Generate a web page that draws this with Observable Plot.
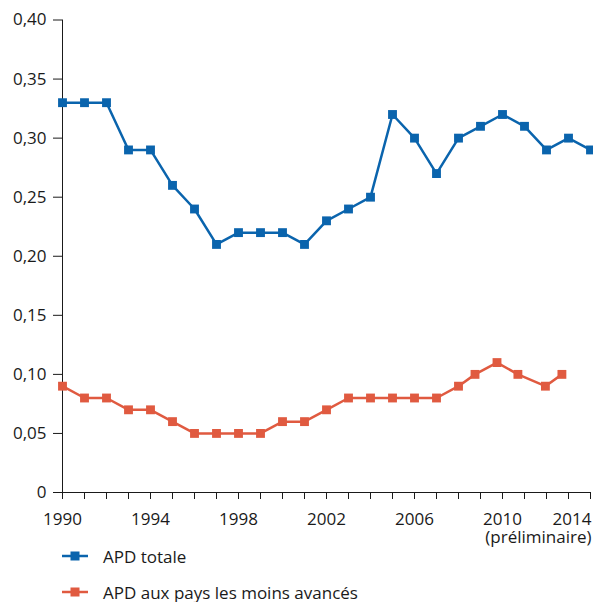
<!DOCTYPE html>
<html><head><meta charset="utf-8">
<script src="https://cdn.jsdelivr.net/npm/d3@7"></script>
<script src="https://cdn.jsdelivr.net/npm/@observablehq/plot@0.6"></script>
<style>
body{margin:0;background:#fff;font-family:"Open Sans",sans-serif;}
#legend{padding-left:62px;font-size:17px;color:#1a1a1a;margin-top:-2px}
.row{display:flex;align-items:center;height:36px}
.row svg{margin-right:15px;display:block}
</style></head><body><div id="chart"></div><div id="legend"></div>
<script>
const years = d3.range(1990, 2015);
const totalValues = [0.33,0.33,0.33,0.29,0.29,0.26,0.24,0.21,0.22,0.22,0.22,0.21,0.23,0.24,0.25,0.32,0.30,0.27,0.30,0.31,0.32,0.31,0.29,0.30,0.29];
const ldcYears = [1990,1991,1992,1993,1994,1995,1996,1997,1998,1999,2000,2001,2002,2003,2004,2005,2006,2007,2008,2008.75,2009.75,2010.7,2011.95,2012.7];
const ldcValues = [0.09,0.08,0.08,0.07,0.07,0.06,0.05,0.05,0.05,0.05,0.06,0.06,0.07,0.08,0.08,0.08,0.08,0.08,0.09,0.10,0.11,0.10,0.09,0.10];
const yTicks = [0,0.05,0.10,0.15,0.20,0.25,0.30,0.35,0.40];
const xLabelYears = [1990,1994,1998,2002,2006,2010];
const lastYear = 2014;
const lastLabel = "2014\n(préliminaire)";
const seriesNames = ["APD totale","APD aux pays les moins avancés"];
const seriesColors = ["#0a64ad","#e05a40"];

const total = years.map((x,i)=>({x, y: totalValues[i]}));
const ldc = ldcYears.map((x,i)=>({x, y: ldcValues[i]}));

const chart = Plot.plot({
  width:593, height:540, marginLeft:62, marginRight:3, marginTop:19.5, marginBottom:48,
  style:{fontFamily:'"Open Sans", sans-serif', fontSize:"17px", color:"#1a1a1a", background:"white", overflow:"visible"},
  x:{domain:[1990,2014]},
  y:{domain:[0,0.4]},
  marks:[
    Plot.axisY({ticks:yTicks, tickSize:9, tickPadding:7, tickFormat:d=> d===0?"0":d.toFixed(2).replace(".",","), label:null, fontSize:17}),
    Plot.axisX({ticks:years, tickSize:7, tickFormat:()=>"", label:null}),
    Plot.axisX({ticks:xLabelYears, tickSize:0, tickPadding:20, tickFormat:d=>String(d), label:null, fontSize:17}),
    Plot.axisX({ticks:[lastYear], tickSize:0, tickPadding:20, tickFormat:()=>lastLabel, textAnchor:"end", dx:1, lineHeight:1.06, label:null, fontSize:17}),
    Plot.frame({anchor:"left", stroke:"#1a1a1a"}),
    Plot.frame({anchor:"bottom", stroke:"#1a1a1a"}),
    Plot.line(ldc,{x:"x", y:"y", stroke:seriesColors[1], strokeWidth:2.5}),
    Plot.dot(ldc,{x:"x", y:"y", symbol:"square", r:5, fill:seriesColors[1]}),
    Plot.line(total,{x:"x", y:"y", stroke:seriesColors[0], strokeWidth:2.5}),
    Plot.dot(total,{x:"x", y:"y", symbol:"square", r:5, fill:seriesColors[0]})
  ]
});
document.getElementById("chart").appendChild(chart);

const legend = document.getElementById("legend");
seriesNames.forEach((name,i)=>{
  const row = document.createElement("div");
  row.className = "row";
  row.innerHTML = `<svg width="26" height="10"><line x1="0" x2="26" y1="5" y2="5" stroke="${seriesColors[i]}" stroke-width="2.5"/><rect x="8.5" y="0.5" width="9" height="9" fill="${seriesColors[i]}"/></svg><span>${name}</span>`;
  legend.appendChild(row);
});
</script></body></html>
